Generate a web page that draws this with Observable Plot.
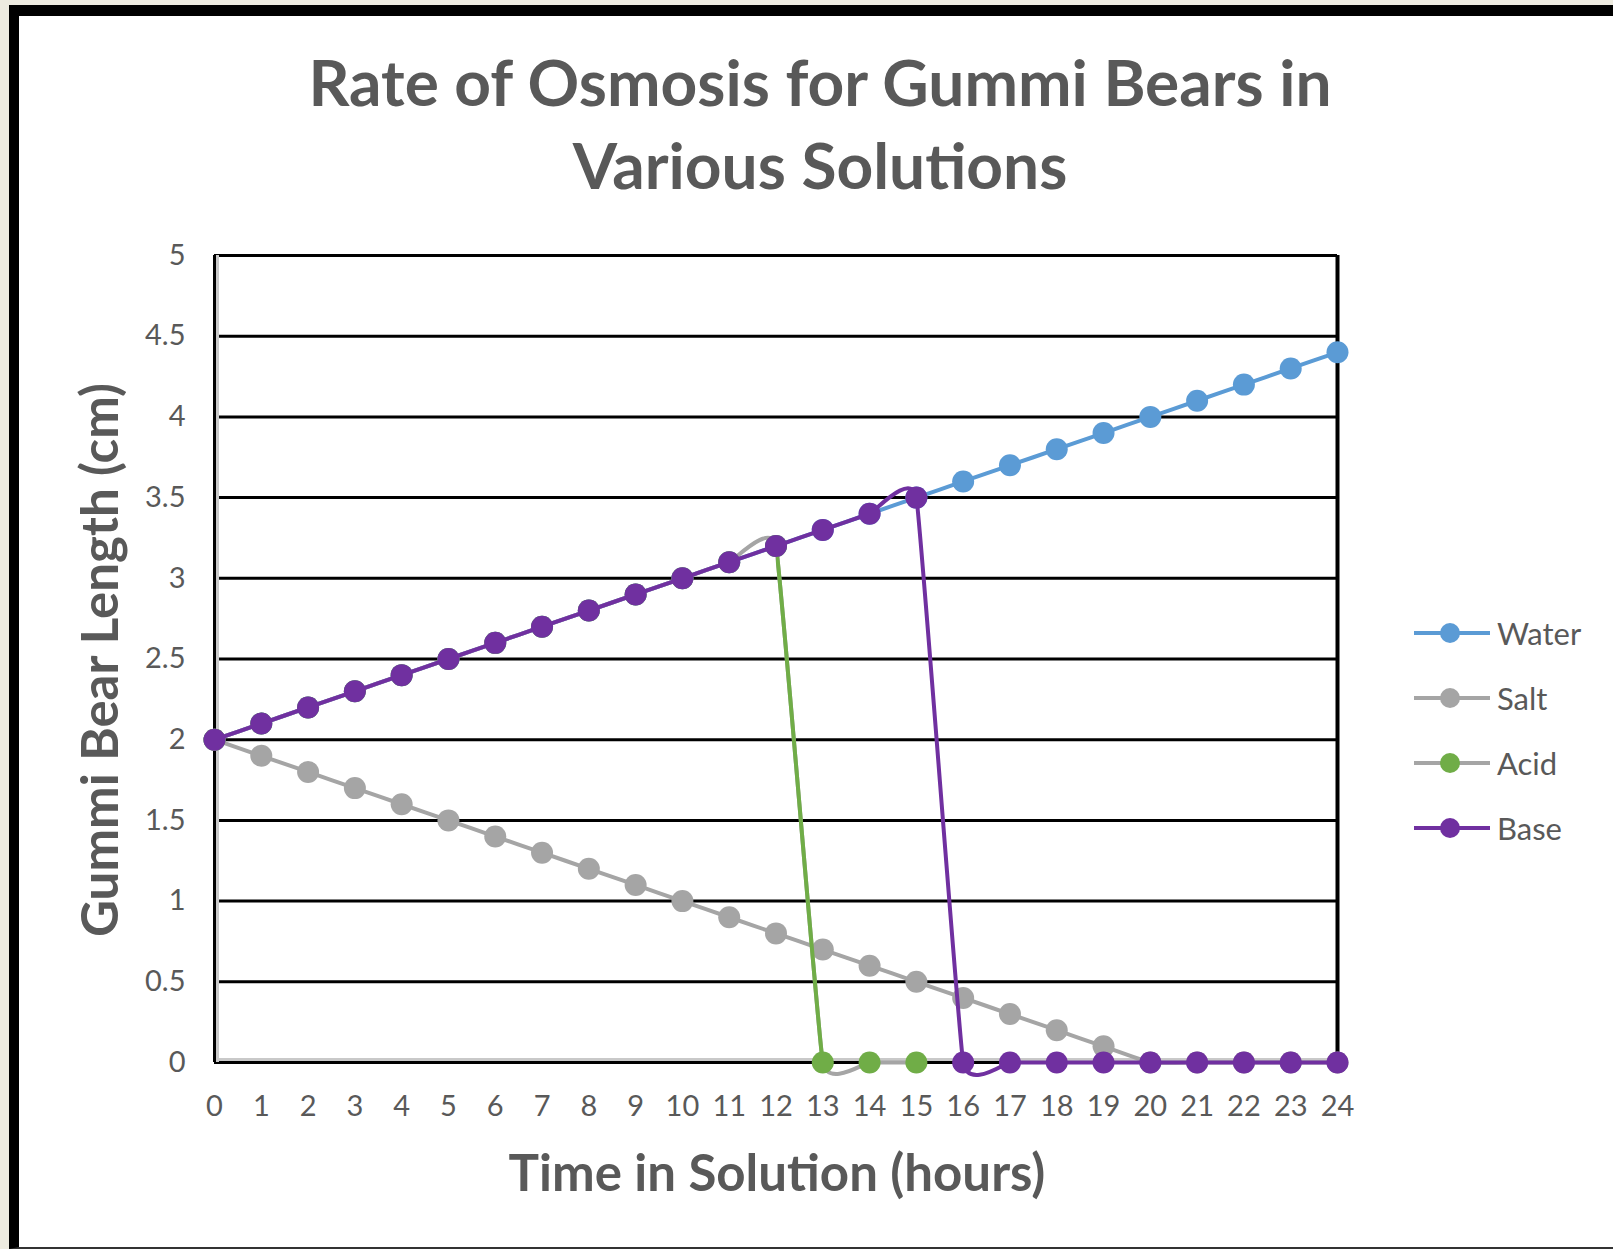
<!DOCTYPE html>
<html>
<head>
<meta charset="utf-8">
<script src="https://cdn.jsdelivr.net/npm/d3@7"></script>
<script src="https://cdn.jsdelivr.net/npm/@observablehq/plot@0.6"></script>
<style>
  html, body { margin: 0; padding: 0; width: 1613px; height: 1249px; overflow: hidden; background: #EDEBE0; font-family: Lato, "Open Sans", sans-serif; }
  #frame { position: absolute; left: 9px; top: 5px; width: 1620px; height: 1231px; background: #fff; border-left: 10px solid #000; border-top: 11px solid #000; border-bottom: 2px solid #333; }
  #chart { position: absolute; left: 0; top: 0; }
  .title { position: absolute; left: 0; width: 1640px; text-align: center; color: #595959; font-weight: 700; font-size: 64px; line-height: 1; white-space: nowrap; }
  .axtitle { position: absolute; color: #595959; font-weight: 700; font-size: 51px; line-height: 1; white-space: nowrap; }
  .leg { position: absolute; left: 1414px; height: 30px; display: flex; align-items: center; color: #595959; font-size: 31px; }
  .leg svg { margin-right: 7px; }
</style>
</head>
<body>
<div id="frame"></div>
<div id="chart"></div>
<script>
// ---- data ----
const hours = [0,1,2,3,4,5,6,7,8,9,10,11,12,13,14,15,16,17,18,19,20,21,22,23,24];
const yTicks = [0,0.5,1,1.5,2,2.5,3,3.5,4,4.5,5];
const water = [2.0,2.1,2.2,2.3,2.4,2.5,2.6,2.7,2.8,2.9,3.0,3.1,3.2,3.3,3.4,3.5,3.6,3.7,3.8,3.9,4.0,4.1,4.2,4.3,4.4];
const salt  = [2.0,1.9,1.8,1.7,1.6,1.5,1.4,1.3,1.2,1.1,1.0,0.9,0.8,0.7,0.6,0.5,0.4,0.3,0.2,0.1,0,0,0,0,0];
const acid  = [2.0,2.1,2.2,2.3,2.4,2.5,2.6,2.7,2.8,2.9,3.0,3.1,3.2,0,0,0];
const base  = [2.0,2.1,2.2,2.3,2.4,2.5,2.6,2.7,2.8,2.9,3.0,3.1,3.2,3.3,3.4,3.5,0,0,0,0,0,0,0,0,0];
const seriesNames = ["Water","Salt","Acid","Base"];
const lineColors = {Water:"#5B9BD5", Salt:"#A5A5A5", Acid:"#A5A5A5", Base:"#7030A0"};
const markerColors = {Water:"#5B9BD5", Salt:"#A5A5A5", Acid:"#70AD47", Base:"#7030A0"};
const acidDropStart = 12, acidDropEnd = 13;

const rows = s => arr => arr.map((v,i)=>({hour: hours[i], len: v, series: s}));
const W = rows("Water")(water), S = rows("Salt")(salt), A = rows("Acid")(acid), B = rows("Base")(base);

const lw = 4, r = 11;
const smooth = {curve: "cardinal", tension: 0.7};
function seriesMarks(data, name) {
  return [
    Plot.line(data, {x:"hour", y:"len", stroke: lineColors[name], strokeWidth: lw, ...smooth}),
    Plot.dot(data, {x:"hour", y:"len", r, fill: markerColors[name], stroke: "none"})
  ];
}

const plot = Plot.plot({
  width: 1613, height: 1249,
  marginLeft: 214, marginRight: 276, marginTop: 255, marginBottom: 187,
  x: {domain: [0, 24]},
  y: {domain: [0, 5]},
  style: {background: "transparent", fontFamily: "Lato, sans-serif", overflow: "visible"},
  marks: [
    Plot.ruleY(yTicks, {stroke: "#000", strokeWidth: 3}),
    Plot.ruleY([0], {stroke: "#C9C9C9", strokeWidth: 3, dy: -3}),
    Plot.ruleX([0], {stroke: "#C9C9C9", strokeWidth: 3, dx: 3}),
    Plot.ruleX([0], {stroke: "#000", strokeWidth: 3}),
    Plot.ruleX([24], {stroke: "#000", strokeWidth: 4}),
    Plot.axisY(yTicks, {tickSize: 0, tickPadding: 29, fontSize: 29, color: "#595959", label: null, tickFormat: d => String(d)}),
    Plot.axisX(hours, {tickSize: 0, tickPadding: 33, fontSize: 29, color: "#595959", label: null, tickFormat: d => String(d)}),
    ...seriesMarks(W, "Water"),
    ...seriesMarks(S, "Salt"),
    Plot.line(A, {x:"hour", y:"len", stroke: lineColors.Acid, strokeWidth: lw, ...smooth}),
    Plot.line(A, {x:"hour", y:"len", stroke: markerColors.Acid, strokeWidth: lw, ...smooth}),
    Plot.dot(A, {x:"hour", y:"len", r, fill: markerColors.Acid, stroke: "none"}),
    ...seriesMarks(B, "Base")
  ]
});
document.getElementById("chart").appendChild(plot);

// clip the green acid drop segment to the interval between hours 12 and 13 using the plot's x scale
const xs = plot.scale("x");
const x0 = xs.apply(acidDropStart), x1 = xs.apply(acidDropEnd);
const ns = "http://www.w3.org/2000/svg";
const defs = document.createElementNS(ns, "defs");
const cp = document.createElementNS(ns, "clipPath");
cp.setAttribute("id", "acidclip");
const rect = document.createElementNS(ns, "rect");
rect.setAttribute("x", x0); rect.setAttribute("y", 0);
rect.setAttribute("width", x1 - x0 + 3); rect.setAttribute("height", 1249);
cp.appendChild(rect); defs.appendChild(cp); plot.insertBefore(defs, plot.firstChild);
const greenLine = Array.from(plot.querySelectorAll("g")).find(g => (g.getAttribute("stroke") || "").toLowerCase() === markerColors.Acid.toLowerCase());
if (greenLine) greenLine.setAttribute("clip-path", "url(#acidclip)");

// ---- titles ----
function addDiv(cls, text, css) {
  const d = document.createElement("div");
  d.className = cls; d.textContent = text;
  Object.assign(d.style, css);
  document.body.appendChild(d);
  return d;
}
addDiv("title", "Rate of Osmosis for Gummi Bears in", {top: "50px"});
addDiv("title", "Various Solutions", {top: "133px"});
addDiv("axtitle", "Time in Solution (hours)", {left: "777px", top: "1171px", transform: "translate(-50%,-50%)"});
addDiv("axtitle", "Gummi Bear Length (cm)", {left: "98px", top: "660px", transform: "translate(-50%,-50%) rotate(-90deg)"});

// ---- legend ----
const legY = [633, 698, 763, 828];
seriesNames.forEach((name, i) => {
  const d = document.createElement("div");
  d.className = "leg";
  d.style.top = (legY[i] - 15) + "px";
  d.innerHTML = `<svg width="76" height="24"><line x1="0" y1="12" x2="76" y2="12" stroke="${lineColors[name]}" stroke-width="4"/><circle cx="36" cy="12" r="10" fill="${markerColors[name]}"/></svg><span>${name}</span>`;
  document.body.appendChild(d);
});
</script>
</body>
</html>
